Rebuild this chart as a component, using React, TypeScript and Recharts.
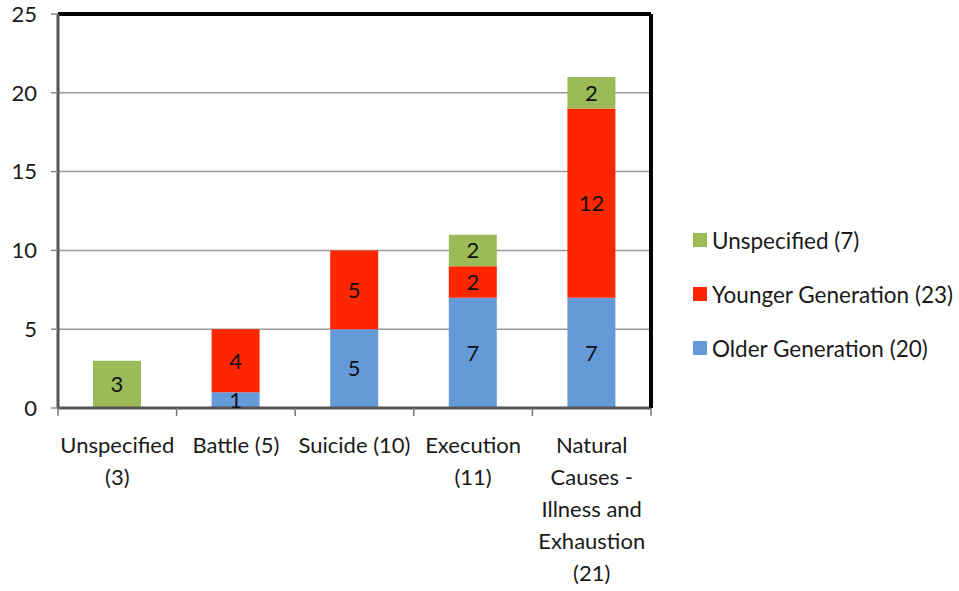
import React from "react";
import {
  Bar,
  BarChart,
  CartesianGrid,
  LabelList,
  ReferenceLine,
  XAxis,
  YAxis,
} from "recharts";

const categories = [
  "Unspecified\n(3)",
  "Battle (5)",
  "Suicide (10)",
  "Execution\n(11)",
  "Natural\nCauses -\nIllness and\nExhaustion\n(21)",
];
const olderGeneration = [0, 1, 5, 7, 7];
const youngerGeneration = [0, 4, 5, 2, 12];
const unspecified = [3, 0, 0, 2, 2];
const yTicks = [0, 5, 10, 15, 20, 25];

const legendItems = [
  { name: "Unspecified (7)", color: "#9bbb59" },
  { name: "Younger Generation (23)", color: "#ff2600" },
  { name: "Older Generation (20)", color: "#659ad9" },
];

const data = categories.map((name, i) => ({
  name,
  older: olderGeneration[i],
  younger: youngerGeneration[i],
  unspecified: unspecified[i],
}));

const FONT = "Lato, 'Open Sans', sans-serif";
const WIDTH = 959;
const HEIGHT = 591;
const X_AXIS_H = 30;
const RIGHT_AXIS_W = 1;
const margin = { top: 14, right: 308 - RIGHT_AXIS_W, bottom: 183 - X_AXIS_H, left: 0 };
const Y_AXIS_W = 58;
const plotWidth = WIDTH - 308 - Y_AXIS_W;
const band = plotWidth / categories.length;

function CategoryTick(props: any) {
  const { x, y, payload, index } = props;
  const lines = String(payload.value).split("\n");
  const half = band / 2;
  return (
    <g>
      <line x1={x - half} y1={y} x2={x - half} y2={y + 8} stroke="#777" strokeWidth={1.5} />
      {index === categories.length - 1 && (
        <line x1={x + half} y1={y} x2={x + half} y2={y + 8} stroke="#777" strokeWidth={1.5} />
      )}
      <text x={x} y={y + 45} textAnchor="middle" fontFamily={FONT} fontSize={22} fill="#1a1a1a">
        {lines.map((l, i) => (
          <tspan key={i} x={x} dy={i === 0 ? 0 : 32}>
            {l}
          </tspan>
        ))}
      </text>
    </g>
  );
}

function LegendBox() {
  return (
    <div
      style={{
        position: "absolute",
        left: 693,
        top: 213,
        fontFamily: FONT,
        fontSize: 22.5,
        color: "#1a1a1a",
      }}
    >
      {legendItems.map((it) => (
        <div key={it.name} style={{ display: "flex", alignItems: "center", height: 54, whiteSpace: "nowrap" }}>
          <span
            style={{ width: 14, height: 14, background: it.color, display: "inline-block", marginRight: 5 }}
          />
          <span>{it.name}</span>
        </div>
      ))}
    </div>
  );
}

const labelFmt = (v: any) => (v ? v : "");

export default function App() {
  return (
    <div style={{ position: "absolute", left: 0, top: 0, width: WIDTH, height: HEIGHT, background: "#fff" }}>
      <BarChart width={WIDTH} height={HEIGHT} data={data} margin={margin} barSize={48}>
        <CartesianGrid vertical={false} stroke="#9a9a9a" strokeWidth={1.5} />
        <XAxis
          dataKey="name"
          height={X_AXIS_H}
          interval={0}
          tickLine={false}
          tickSize={0}
          tickMargin={0}
          axisLine={{ stroke: "#555", strokeWidth: 3 }}
          tick={<CategoryTick />}
        />
        <YAxis
          width={Y_AXIS_W}
          domain={[0, 25]}
          ticks={yTicks}
          interval={0}
          tickSize={7}
          tickMargin={14}
          tickLine={{ stroke: "#888", strokeWidth: 1.5 }}
          axisLine={{ stroke: "#555", strokeWidth: 3 }}
          tick={{ fontFamily: FONT, fontSize: 22, fill: "#1a1a1a" }}
        />
        <YAxis
          yAxisId="right"
          orientation="right"
          width={RIGHT_AXIS_W}
          domain={[0, 25]}
          tick={false}
          tickLine={false}
          axisLine={{ stroke: "#000", strokeWidth: 4 }}
        />
        <ReferenceLine y={25} stroke="#000" strokeWidth={4} />
        <Bar dataKey="older" stackId="a" fill="#659ad9" isAnimationActive={false}>
          <LabelList dataKey="older" position="center" formatter={labelFmt} fill="#111" fontSize={22} fontFamily={FONT} />
        </Bar>
        <Bar dataKey="younger" stackId="a" fill="#ff2600" isAnimationActive={false}>
          <LabelList dataKey="younger" position="center" formatter={labelFmt} fill="#111" fontSize={22} fontFamily={FONT} />
        </Bar>
        <Bar dataKey="unspecified" stackId="a" fill="#9bbb59" isAnimationActive={false}>
          <LabelList dataKey="unspecified" position="center" formatter={labelFmt} fill="#111" fontSize={22} fontFamily={FONT} />
        </Bar>
      </BarChart>
      <LegendBox />
    </div>
  );
}
